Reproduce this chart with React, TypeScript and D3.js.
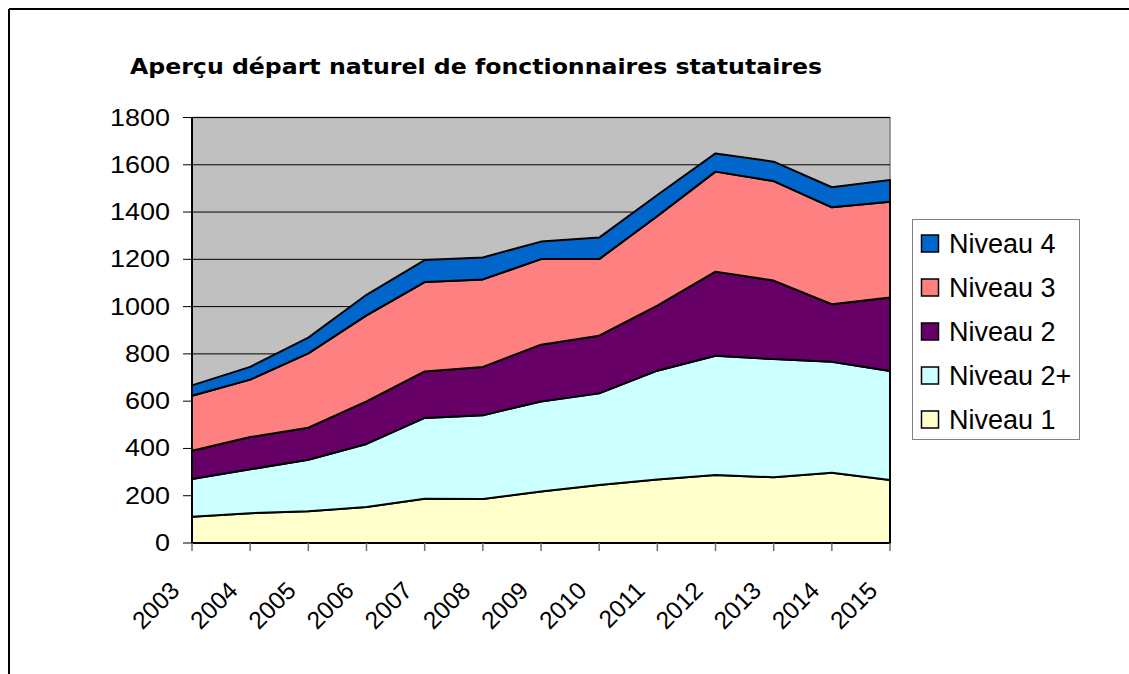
import React from 'react';
import * as d3 from 'd3';

const years = [2003, 2004, 2005, 2006, 2007, 2008, 2009, 2010, 2011, 2012, 2013, 2014, 2015];
const niveau1 = [111, 126, 134, 152, 187, 186, 218, 245, 269, 288, 278, 297, 267];
const niveau2plus = [160, 186, 218, 267, 342, 354, 381, 388, 460, 504, 500, 470, 461];
const niveau2 = [119, 136, 136, 180, 197, 205, 240, 244, 275, 356, 332, 243, 311];
const niveau3 = [233, 243, 314, 364, 378, 370, 362, 324, 379, 423, 421, 410, 405];
const niveau4 = [44, 54, 67, 87, 93, 93, 74, 91, 89, 77, 82, 85, 92];

const seriesNames = ['Niveau 1', 'Niveau 2+', 'Niveau 2', 'Niveau 3', 'Niveau 4'];
const seriesColors = ['#FFFFCC', '#CCFFFF', '#660066', '#FF8080', '#0066CC'];
const yTicks = [0, 200, 400, 600, 800, 1000, 1200, 1400, 1600, 1800];

const title = 'Aperçu départ naturel de fonctionnaires statutaires';

export default function App() {
  const width = 1129;
  const height = 674;
  const left = 192, right = 890, top = 117.5, bottom = 543;

  const rows = years.map((yr, i) => ({
    year: yr,
    'Niveau 1': niveau1[i],
    'Niveau 2+': niveau2plus[i],
    'Niveau 2': niveau2[i],
    'Niveau 3': niveau3[i],
    'Niveau 4': niveau4[i],
  }));

  const stacked = d3.stack<any>().keys(seriesNames)(rows);

  const x = d3.scaleLinear().domain(d3.extent(years) as [number, number]).range([left, right]);
  const y = d3.scaleLinear().domain([0, 1800]).range([bottom, top]);

  const area = d3.area<any>()
    .x(d => x(d.data.year))
    .y0(d => y(d[0]))
    .y1(d => y(d[1]));

  const font = '"Liberation Sans", Arial, sans-serif';

  // legend is listed top-down from Niveau 4
  const legendItems = seriesNames.map((n, i) => ({ name: n, color: seriesColors[i] })).reverse();

  return (
    <svg width={width} height={height} style={{ position: 'absolute', left: 0, top: 0, background: '#fff' }}>
      <rect x={0} y={0} width={width} height={height} fill="#fff" />
      {/* outer frame */}
      <line x1={9} y1={9} x2={width} y2={9} stroke="#000" strokeWidth={2} />
      <line x1={9} y1={9} x2={9} y2={height} stroke="#000" strokeWidth={2} />

      <text x={130} y={73.5} fontFamily='"DejaVu Sans", Verdana, sans-serif' fontWeight="bold"
            fontSize={21} textLength={692} lengthAdjust="spacingAndGlyphs">{title}</text>

      {/* plot background */}
      <rect x={left} y={top} width={right - left} height={bottom - top} fill="#C0C0C0" stroke="#808080" strokeWidth={1.5} />

      {yTicks.filter(t => t > 0).map(t => (
        <line key={t} x1={left} x2={right} y1={y(t)} y2={y(t)} stroke="#000" strokeWidth={1} />
      ))}

      {stacked.map((s, i) => (
        <path key={s.key} d={area(s) || ''} fill={seriesColors[i]} stroke="#000" strokeWidth={2} strokeLinejoin="round" />
      ))}

      {/* axes */}
      <line x1={left} x2={left} y1={top} y2={bottom} stroke="#000" strokeWidth={2} />
      <line x1={left} x2={right} y1={bottom} y2={bottom} stroke="#000" strokeWidth={2} />
      {yTicks.map(t => (
        <g key={t}>
          <line x1={left - 9} x2={left} y1={y(t)} y2={y(t)} stroke="#000" strokeWidth={1} />
          <text x={170} y={y(t) + 8} textAnchor="end" fontFamily={font} fontSize={23}
                textLength={String(t).length * 15} lengthAdjust="spacingAndGlyphs">{t}</text>
        </g>
      ))}
      {years.map(yr => (
        <g key={yr}>
          <line x1={x(yr)} x2={x(yr)} y1={bottom} y2={bottom + 8} stroke="#707070" strokeWidth={1.5} />
          <text transform={`translate(${x(yr) - 11},${592}) rotate(-45)`} textAnchor="end"
                fontFamily={font} fontSize={24.5}>{yr}</text>
        </g>
      ))}

      {/* legend */}
      <rect x={912.5} y={219.5} width={167} height={220} fill="#fff" stroke="#808080" strokeWidth={1} />
      {legendItems.map((it, i) => {
        const cy = 243 + i * 44;
        return (
          <g key={it.name}>
            <rect x={921.5} y={cy - 8} width={17} height={17} fill={it.color} stroke="#000" strokeWidth={1.5} />
            <text x={949} y={cy + 10} fontFamily={font} fontSize={27}>{it.name}</text>
          </g>
        );
      })}
    </svg>
  );
}
